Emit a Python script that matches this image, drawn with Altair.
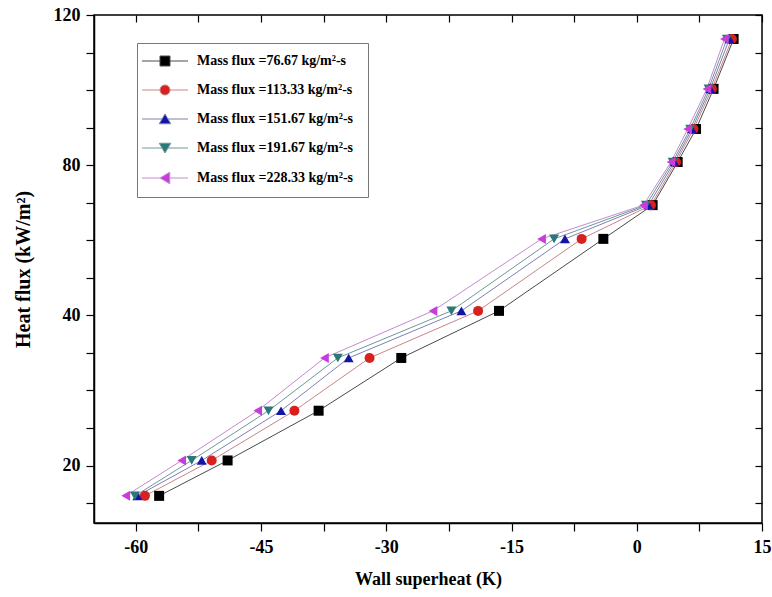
import altair as alt
import pandas as pd

# ---- data ----
series = [
    "Mass flux =76.67 kg/m²-s",
    "Mass flux =113.33 kg/m²-s",
    "Mass flux =151.67  kg/m²-s",
    "Mass flux =191.67 kg/m²-s",
    "Mass flux =228.33 kg/m²-s",
]
heat_flux = [16.0, 20.7, 27.3, 34.3, 41.1, 60.3, 69.3, 80.8, 89.6, 100.3, 113.6]
ws_76 = [-57.2, -49.0, -38.1, -28.2, -16.5, -4.0, 1.9, 4.9, 7.1, 9.2, 11.6]
ws_113 = [-58.9, -50.9, -41.0, -32.0, -19.0, -6.6, 1.7, 4.7, 6.8, 9.0, 11.4]
ws_151 = [-59.8, -52.1, -42.6, -34.5, -21.0, -8.6, 1.4, 4.5, 6.6, 8.8, 11.1]
ws_191 = [-60.1, -53.3, -44.1, -35.8, -22.2, -9.9, 1.1, 4.3, 6.4, 8.6, 10.8]
ws_228 = [-61.2, -54.5, -45.4, -37.4, -24.4, -11.4, 0.8, 4.1, 6.1, 8.4, 10.5]

x_ticks = [-60, -52.5, -45, -37.5, -30, -22.5, -15, -7.5, 0, 7.5, 15]
y_ticks = [15, 20, 25, 30, 35, 40, 50, 60, 70, 80, 90, 100, 110, 120]
y_labels = [20, 40, 80, 120]

marker_colors = ["#000000", "#d8201e", "#1414a8", "#2a7878", "#c83cdc"]
line_colors = ["#4a4a4a", "#c98585", "#7f7fb5", "#6f9898", "#c48ad0"]
marker_shapes = ["square", "circle", "triangle-up", "triangle-down", "triangle-left"]
legend_paths = [
    "M-4.6,0H-1M1,0H4.6M-1,-1H1V1H-1Z",
    "M-4.6,0H-1M1,0H4.6M-1,0A1,1,0,1,0,1,0A1,1,0,1,0,-1,0Z",
    "M-4.6,0H-0.6M0.6,0H4.6M0,-1L1.15,0.95H-1.15Z",
    "M-4.6,0H-0.6M0.6,0H4.6M0,1L1.15,-0.95H-1.15Z",
    "M-4.6,0H-1M0.95,0H4.6M-1,0L0.95,-1.15V1.15Z",
]

rows = []
for s, xs in zip(series, [ws_76, ws_113, ws_151, ws_191, ws_228]):
    for i, (xv, yv) in enumerate(zip(xs, heat_flux)):
        rows.append({"series": s, "ws": xv, "hf": yv, "idx": i})
df = pd.DataFrame(rows)

W, H = 668, 508
xscale = alt.Scale(domain=[-65, 15], nice=False, zero=False)
yscale = alt.Scale(domain=[12.4, 40, 120], range=[H, 300, 0], nice=False, zero=False)

FONT = "Liberation Serif"
x_label_expr = "datum.value % 15 == 0 ? toString(datum.value) : ''"
y_label_expr = "indexof([20, 40, 80, 120], datum.value) >= 0 ? toString(datum.value) : ''"

base = alt.Chart(df)

lines = base.mark_line(strokeWidth=1).encode(
    x=alt.X("ws:Q", scale=xscale,
            axis=alt.Axis(orient="top", values=x_ticks, labels=False, domain=False,
                          ticks=True, tickSize=7, offset=-7, title=None, grid=False)),
    y=alt.Y("hf:Q", scale=yscale,
            axis=alt.Axis(orient="right", values=y_ticks, labels=False, domain=False,
                          ticks=True, tickSize=7, offset=-7, title=None, grid=False)),
    color=alt.Color("series:N", scale=alt.Scale(domain=series, range=line_colors), legend=None),
    order=alt.Order("idx:Q"),
)

points = base.mark_point(filled=True, size=100, opacity=1, strokeWidth=0).encode(
    x=alt.X("ws:Q", scale=xscale,
            axis=alt.Axis(orient="bottom", values=x_ticks, labelExpr=x_label_expr,
                          tickSize=8, labelPadding=7, labelFlush=False,
                          title="Wall superheat (K)", titlePadding=14, grid=False)),
    y=alt.Y("hf:Q", scale=yscale,
            axis=alt.Axis(orient="left", values=y_ticks, labelExpr=y_label_expr,
                          tickSize=8, labelPadding=6, labelFlush=False,
                          title="Heat flux (kW/m²)", titleFontSize=20, titlePadding=20,
                          grid=False)),
    shape=alt.Shape("series:N", scale=alt.Scale(domain=series, range=marker_shapes), legend=None),
    fill=alt.Fill("series:N", scale=alt.Scale(domain=series, range=marker_colors), legend=None),
)

leg = alt.Legend(
    title=None, orient="none", legendX=43, legendY=28, direction="vertical",
    labelFont=FONT, labelFontWeight="bold", labelFontSize=14, labelColor="black",
    labelLimit=400, symbolSize=100, symbolStrokeWidth=1, symbolOffset=10, symbolOpacity=1,
    labelOffset=25, rowPadding=15, padding=11, strokeColor="#777777", fillColor="white",
)

# legend-only layer: explicit scale domains give the entries, no visible marks
legend_layer = base.transform_filter("datum.idx < 0").mark_point(
    filled=True, size=100, strokeWidth=1, opacity=1
).encode(
    x=alt.X("ws:Q", scale=xscale, axis=None),
    y=alt.Y("hf:Q", scale=yscale, axis=None),
    shape=alt.Shape("series:N", scale=alt.Scale(domain=series, range=legend_paths), legend=leg),
    fill=alt.Fill("series:N", scale=alt.Scale(domain=series, range=marker_colors), legend=leg),
    stroke=alt.Stroke("series:N", scale=alt.Scale(domain=series, range=line_colors), legend=leg),
)

chart = (
    alt.layer(lines, points, legend_layer)
    .resolve_axis(x="independent", y="independent")
    .resolve_scale(shape="independent", fill="independent", stroke="independent", color="independent")
    .properties(
        width=W, height=H,
        autosize=alt.AutoSizeParams(type="none"),
        padding={"left": 94, "top": 15, "right": 10, "bottom": 74},
        background="white",
    )
    .configure_view(stroke="black", strokeWidth=1.5)
    .configure_axis(
        labelFont=FONT, labelFontWeight="bold", labelFontSize=18, labelColor="black",
        titleFont=FONT, titleFontWeight="bold", titleFontSize=18, titleColor="black",
        domainColor="black", domainWidth=1.5, tickColor="black", tickWidth=1.2,
    )
)

chart.save("out.html", embed_options={"renderer": "svg", "actions": False})
